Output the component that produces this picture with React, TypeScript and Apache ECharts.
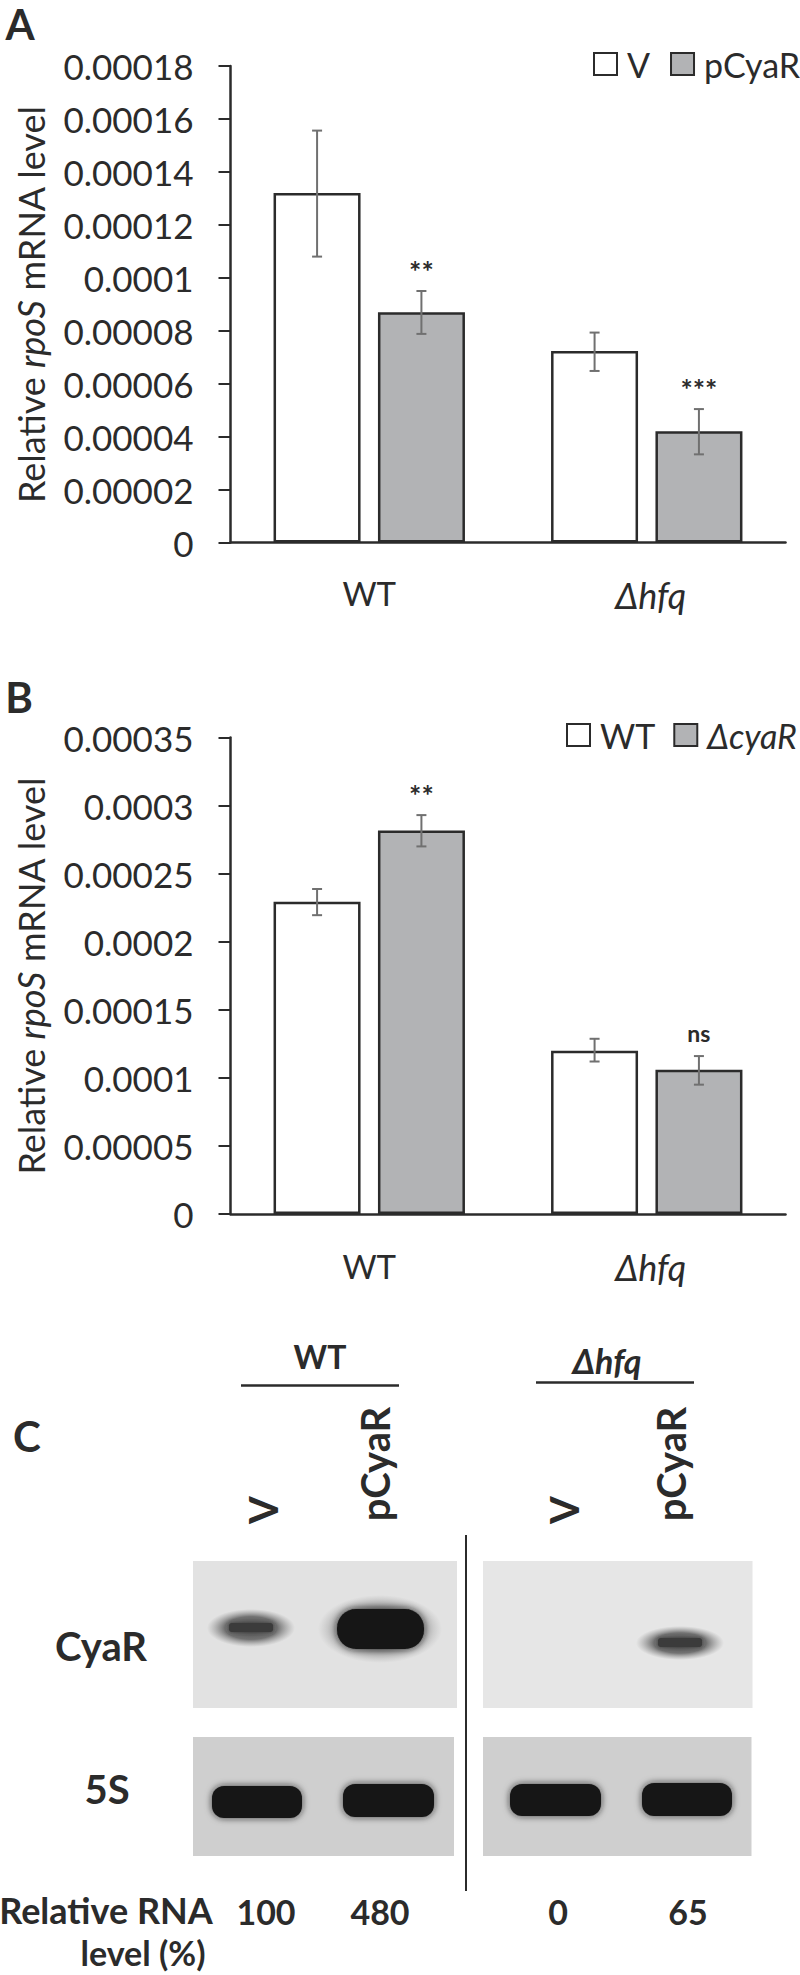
import React, { useEffect, useRef } from "react";
import * as echarts from "echarts";

const FONT = "Lato, 'Open Sans', sans-serif";
const INK = "#2b2b2b";
const GRAY = "#b2b3b5";

const groups = ["WT", "Δhfq"];

const ticksA = ["0", "0.00002", "0.00004", "0.00006", "0.00008", "0.0001", "0.00012", "0.00014", "0.00016", "0.00018"];
const aV = [0.000132, 0.0000723];
const aVLow = [0.000108, 0.0000648];
const aVHigh = [0.0001556, 0.0000793];
const aP = [0.000087, 0.000042];
const aPLow = [0.0000788, 0.0000333];
const aPHigh = [0.000095, 0.0000504];
const aSig = ["**", "***"];

const ticksB = ["0", "0.00005", "0.0001", "0.00015", "0.0002", "0.00025", "0.0003", "0.00035"];
const bW = [0.0002294, 0.00012];
const bWLow = [0.0002195, 0.000112];
const bWHigh = [0.0002387, 0.0001287];
const bC = [0.0002816, 0.000106];
const bCLow = [0.00027, 0.000095];
const bCHigh = [0.000293, 0.000116];
const bSig = ["**", "ns"];

const rnaLevels = ["100", "480", "0", "65"];
const rnaX = [266, 380, 558, 688];

const rich = (size: number, pad: number = 0, iSize: number = size, iPad: number = pad) => ({
  r: { fontFamily: FONT, fontSize: size, color: INK, padding: [0, 0, 0, pad] },
  i: { fontFamily: FONT, fontSize: iSize, color: INK, fontStyle: "italic", padding: [0, 0, 0, iPad] },
});

function errorSeries(gridIdx: number, sign: number, low: number[], high: number[], sig: string[]) {
  return {
    type: "custom",
    xAxisIndex: gridIdx,
    yAxisIndex: gridIdx,
    clip: false,
    silent: true,
    z: 5,
    encode: { x: 0, y: [1, 2] },
    data: low.map((l, i) => [i, l, high[i]]),
    renderItem: (params: any, api: any) => {
      const cat = api.value(0);
      const band = api.size([1, 0])[0];
      const lo = api.coord([cat, api.value(1)]);
      const hi = api.coord([cat, api.value(2)]);
      const x = lo[0] + sign * band * 0.188;
      const s = { stroke: "#707070", lineWidth: 2 };
      const children: any[] = [
        { type: "line", shape: { x1: x, y1: lo[1], x2: x, y2: hi[1] }, style: s },
        { type: "line", shape: { x1: x - 5, y1: lo[1], x2: x + 5, y2: lo[1] }, style: s },
        { type: "line", shape: { x1: x - 5, y1: hi[1], x2: x + 5, y2: hi[1] }, style: s },
      ];
      const label = sign > 0 ? sig[params.dataIndex] : "";
      if (label) {
        const isNs = label === "ns";
        children.push({
          type: "text",
          style: {
            text: label,
            x,
            y: hi[1] - (isNs ? 23 : 21),
            align: "center",
            verticalAlign: "middle",
            fill: INK,
            font: `bold ${isNs ? 23 : 29}px ${FONT}`,
          },
        });
      }
      return { type: "group", children };
    },
  };
}

function barSeries(name: string, gridIdx: number, values: number[], fill: string) {
  return {
    type: "bar",
    name,
    xAxisIndex: gridIdx,
    yAxisIndex: gridIdx,
    data: values,
    barWidth: 87,
    barGap: "20%",
    silent: true,
    itemStyle: { color: fill, borderColor: INK, borderWidth: 2.5 },
  };
}

function t(text: string, x: number, y: number, size: number, extra: any = {}) {
  return {
    type: "text",
    x,
    y,
    silent: true,
    rotation: extra.rotation || 0,
    style: {
      text,
      x: 0,
      y: 0,
      align: "center",
      verticalAlign: "middle",
      fill: INK,
      font: `${extra.italic ? "italic " : ""}bold ${size}px ${FONT}`,
    },
  };
}

function halo(cx: number, cy: number, rx: number, ry: number, core: string, mid: string) {
  return {
    type: "ellipse",
    silent: true,
    shape: { cx, cy, rx, ry },
    style: {
      fill: {
        type: "radial",
        x: 0.5,
        y: 0.5,
        r: 0.5,
        colorStops: [
          { offset: 0, color: core },
          { offset: 0.6, color: mid },
          { offset: 1, color: "rgba(130,130,130,0)" },
        ],
      },
    },
  };
}

function softBand(cx: number, cy: number, rx: number, ry: number) {
  return [
    halo(cx, cy, rx, ry, "#4a4a4a", "rgba(85,85,85,0.8)"),
    {
      type: "rect",
      silent: true,
      shape: { x: cx - rx * 0.5, y: cy - 5, width: rx, height: 9, r: 3 },
      style: { fill: "#3a3a3a", shadowBlur: 4, shadowColor: "rgba(50,50,50,0.9)" },
    },
  ];
}

function hardBand(x: number, y: number, width: number, height: number, r: number) {
  return {
    type: "rect",
    silent: true,
    shape: { x, y, width, height, r },
    style: { fill: "#141414", shadowBlur: 7, shadowColor: "rgba(20,20,20,0.8)" },
  };
}

const panel = (x: number, y: number, width: number, height: number, fill: string) => ({
  type: "rect",
  silent: true,
  shape: { x, y, width, height },
  style: { fill },
});

const rule = (x1: number, y1: number, x2: number, y2: number, lineWidth: number) => ({
  type: "line",
  silent: true,
  shape: { x1, y1, x2, y2 },
  style: { stroke: INK, lineWidth },
});

function axes(idx: number, ticks: string[], max: number, interval: number) {
  return {
    x: {
      type: "category",
      gridIndex: idx,
      data: groups,
      axisLine: { show: true, onZero: false, lineStyle: { color: INK, width: 2.5 } },
      axisTick: { show: false },
      axisLabel: {
        margin: idx === 0 ? 34 : 35,
        formatter: (v: string) => (v === "WT" ? `{r|${v}}` : `{i|${v}}`),
        rich: rich(33, 0, 36, 8),
      },
    },
    y: {
      type: "value",
      gridIndex: idx,
      min: 0,
      max,
      interval,
      splitLine: { show: false },
      axisLine: { show: true, lineStyle: { color: INK, width: 2.5 } },
      axisTick: { show: true, length: 12, lineStyle: { color: INK, width: 2 } },
      axisLabel: {
        margin: 37,
        color: INK,
        fontFamily: FONT,
        fontSize: 35,
        formatter: (_: number, i: number) => ticks[i],
      },
      name: "{r|Relative }{i|rpoS}{r| mRNA level}",
      nameLocation: "middle",
      nameGap: 182,
      nameTextStyle: { rich: rich(36) },
    },
  };
}

export default function App() {
  const ref = useRef<HTMLDivElement>(null);
  useEffect(() => {
    const chart = echarts.init(ref.current!, undefined, { renderer: "svg" });
    const a = axes(0, ticksA, 0.00018, 0.00002);
    const b = axes(1, ticksB, 0.00035, 0.00005);
    chart.setOption({
      animation: false,
      backgroundColor: "#ffffff",
      grid: [
        { left: 230.5, top: 66, width: 555, height: 476.5 },
        { left: 230.5, top: 737.5, width: 555, height: 476.5 },
      ],
      xAxis: [a.x, b.x],
      yAxis: [a.y, b.y],
      legend: [
        {
          data: ["V", "pCyaR"],
          left: 593,
          top: 47,
          width: 300,
          padding: 0,
          itemWidth: 23,
          itemHeight: 22,
          itemGap: 20,
          icon: "rect",
          selectedMode: false,
          formatter: (n: string) => `{r|${n}}`,
          textStyle: { rich: rich(34, 5) },
        },
        {
          data: ["WT", "ΔcyaR"],
          left: 566,
          top: 718,
          width: 300,
          padding: 0,
          itemWidth: 23,
          itemHeight: 22,
          itemGap: 18,
          icon: "rect",
          selectedMode: false,
          formatter: (n: string) => (n === "WT" ? `{r|${n}}` : `{i|${n}}`),
          textStyle: { rich: rich(34, 5) },
        },
      ],
      series: [
        barSeries("V", 0, aV, "#ffffff"),
        barSeries("pCyaR", 0, aP, GRAY),
        barSeries("WT", 1, bW, "#ffffff"),
        barSeries("ΔcyaR", 1, bC, GRAY),
        errorSeries(0, -1, aVLow, aVHigh, aSig),
        errorSeries(0, 1, aPLow, aPHigh, aSig),
        errorSeries(1, -1, bWLow, bWHigh, bSig),
        errorSeries(1, 1, bCLow, bCHigh, bSig),
      ],
      graphic: {
        elements: [
          t("A", 20, 24, 42),
          t("B", 19, 697, 42),
          t("C", 27, 1436, 42),

          t("WT", 320, 1356, 32),
          rule(241, 1385.5, 399, 1385.5, 2.5),
          t("Δhfq", 607, 1360, 34, { italic: true }),
          rule(536, 1382.5, 694, 1382.5, 2.5),

          t("V", 263, 1510, 40, { rotation: Math.PI / 2 }),
          t("pCyaR", 375, 1464, 40, { rotation: Math.PI / 2 }),
          t("V", 564, 1510, 40, { rotation: Math.PI / 2 }),
          t("pCyaR", 671, 1464, 40, { rotation: Math.PI / 2 }),

          panel(193, 1561, 264, 147, "#e2e2e2"),
          panel(483, 1561, 269.5, 147, "#e6e6e6"),
          panel(193, 1737, 261, 119, "#cfcfcf"),
          panel(483, 1737, 268.5, 119, "#cfcfcf"),

          ...softBand(251, 1628, 44, 19),
          halo(380, 1629, 62, 34, "rgba(50,50,50,0.7)", "rgba(70,70,70,0.55)"),
          hardBand(337, 1609, 87, 40, 19),
          ...softBand(680, 1643, 44, 17),

          hardBand(212, 1786, 90, 32, 12),
          hardBand(343, 1784, 91, 33, 12),
          hardBand(510, 1784, 91, 32, 12),
          hardBand(642, 1783, 90, 33, 12),

          rule(466, 1535, 466, 1891, 2),

          t("CyaR", 101, 1646, 40),
          t("5S", 107, 1789, 40),
          t("Relative RNA", 106, 1910, 36),
          t("level (%)", 143, 1952, 34),
          ...rnaLevels.map((v, i) => t(v, rnaX[i], 1911, 34)),
        ],
      },
    });
    return () => chart.dispose();
  }, []);
  return (
    <div
      ref={ref}
      style={{ position: "absolute", left: 0, top: 0, width: 800, height: 1975 }}
    />
  );
}
